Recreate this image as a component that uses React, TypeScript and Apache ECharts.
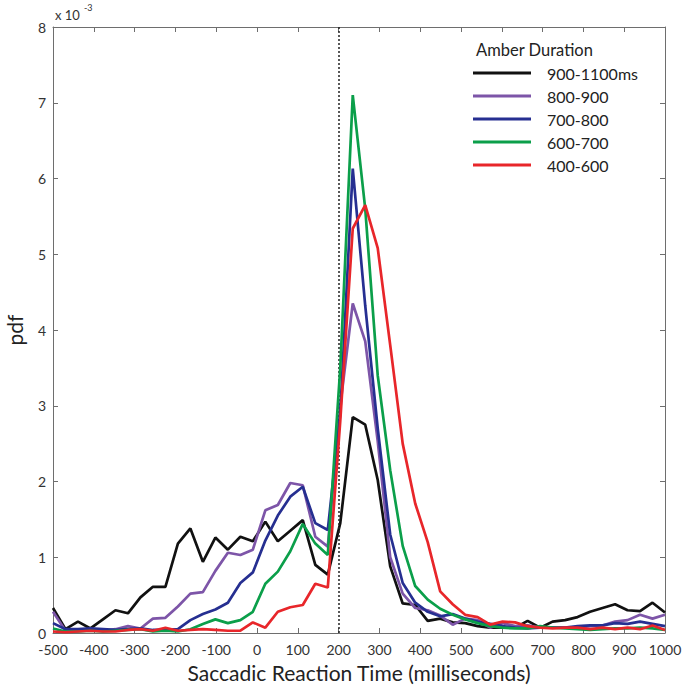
import React, { useEffect, useRef } from "react";
import * as echarts from "echarts";

// Reaction-time bin positions (ms)
const xValues = [
  -500, -469.4, -438.8, -408.2, -377.6, -346.9, -316.3, -285.7, -255.1, -224.5,
  -193.9, -163.3, -132.7, -102.0, -71.4, -40.8, -10.2, 20.4, 51.0, 81.6,
  112.2, 142.9, 173.5, 204.1, 234.7, 265.3, 295.9, 326.5, 357.1, 387.8,
  418.4, 449.0, 479.6, 510.2, 540.8, 571.4, 602.0, 632.7, 663.3, 693.9,
  724.5, 755.1, 785.7, 816.3, 846.9, 877.6, 908.2, 938.8, 969.4, 1000,
];

// pdf values (x 10^-3)
const dur900to1100 = [
  0.33, 0.05, 0.15, 0.06, 0.18, 0.30, 0.26, 0.47, 0.61, 0.61,
  1.18, 1.38, 0.94, 1.26, 1.10, 1.27, 1.21, 1.47, 1.21, 1.35,
  1.49, 0.90, 0.77, 1.45, 2.85, 2.75, 2.02, 0.88, 0.39, 0.37,
  0.16, 0.19, 0.14, 0.13, 0.09, 0.07, 0.07, 0.07, 0.16, 0.07,
  0.15, 0.17, 0.21, 0.28, 0.33, 0.38, 0.30, 0.29, 0.40, 0.27,
];
const dur800to900 = [
  0.28, 0.03, 0.03, 0.04, 0.03, 0.05, 0.09, 0.06, 0.19, 0.20,
  0.35, 0.52, 0.54, 0.82, 1.06, 1.03, 1.10, 1.62, 1.69, 1.98,
  1.95, 1.27, 1.14, 3.0, 4.35, 3.85, 2.53, 1.0, 0.52, 0.33,
  0.30, 0.23, 0.11, 0.19, 0.17, 0.07, 0.13, 0.09, 0.10, 0.07,
  0.07, 0.07, 0.07, 0.09, 0.10, 0.15, 0.17, 0.24, 0.19, 0.24,
];
const dur700to800 = [
  0.13, 0.05, 0.05, 0.06, 0.05, 0.04, 0.05, 0.06, 0.04, 0.04,
  0.05, 0.17, 0.25, 0.31, 0.40, 0.66, 0.80, 1.22, 1.55, 1.80,
  1.93, 1.45, 1.36, 2.9, 6.13, 4.32, 2.7, 1.3, 0.66, 0.40,
  0.28, 0.22, 0.25, 0.19, 0.15, 0.12, 0.09, 0.07, 0.06, 0.07,
  0.07, 0.07, 0.09, 0.10, 0.10, 0.13, 0.12, 0.15, 0.12, 0.09,
];
const dur600to700 = [
  0.06, 0.02, 0.02, 0.03, 0.02, 0.03, 0.04, 0.05, 0.02, 0.03,
  0.02, 0.05, 0.12, 0.18, 0.13, 0.17, 0.28, 0.65, 0.81, 1.08,
  1.44, 1.18, 1.03, 3.5, 7.10, 5.6, 3.4, 2.15, 1.15, 0.62,
  0.44, 0.32, 0.24, 0.18, 0.13, 0.09, 0.07, 0.06, 0.06, 0.09,
  0.07, 0.06, 0.05, 0.04, 0.05, 0.06, 0.06, 0.07, 0.06, 0.04,
];
const dur400to600 = [
  0.02, 0.01, 0.02, 0.03, 0.02, 0.02, 0.04, 0.05, 0.03, 0.07,
  0.03, 0.04, 0.05, 0.04, 0.03, 0.03, 0.14, 0.07, 0.28, 0.34,
  0.37, 0.65, 0.60, 2.8, 5.34, 5.65, 5.08, 3.8, 2.5, 1.71,
  1.2, 0.55, 0.38, 0.24, 0.21, 0.11, 0.15, 0.14, 0.09, 0.07,
  0.06, 0.07, 0.07, 0.05, 0.07, 0.05, 0.07, 0.05, 0.10, 0.04,
];

const seriesNames = ["900-1100ms", "800-900", "700-800", "600-700", "400-600"];
const seriesValues = [dur900to1100, dur800to900, dur700to800, dur600to700, dur400to600];
const seriesColors = ["#111111", "#7d55a8", "#262f91", "#0b9f4a", "#e8262a"];

const markerX = 200;

const FONT = "Lato, 'Open Sans', sans-serif";
const AXIS_COLOR = "#6e6e6e";

export default function App() {
  const ref = useRef<HTMLDivElement>(null);

  useEffect(() => {
    if (!ref.current) return;
    const chart = echarts.init(ref.current, undefined, { renderer: "svg" });

    const axisCommon = {
      axisLine: { show: true, onZero: false, lineStyle: { color: AXIS_COLOR, width: 1 } },
      axisTick: { show: true, inside: true, length: 5, lineStyle: { color: AXIS_COLOR, width: 1 } },
      splitLine: { show: false },
    };

    const series: any[] = seriesNames.map((name, i) => ({
      name,
      type: "line",
      data: xValues.map((x, j) => [x, seriesValues[i][j]]),
      symbol: "none",
      showSymbol: false,
      clip: true,
      lineStyle: { color: seriesColors[i], width: 2.7 },
      itemStyle: { color: seriesColors[i] },
      z: 3 + i,
    }));
    series[0].markLine = {
      silent: true,
      symbol: ["none", "none"],
      label: { show: false },
      lineStyle: { color: "#222", width: 1.5, type: [2, 2] },
      data: [{ xAxis: markerX }],
      animation: false,
    };

    chart.setOption({
      animation: false,
      backgroundColor: "#ffffff",
      textStyle: { fontFamily: FONT },
      grid: {
        left: 53,
        right: 23,
        top: 27,
        bottom: 60,
        containLabel: false,
        outerBoundsMode: "none",
      },
      xAxis: [
        {
          type: "value",
          min: -500,
          max: 1000,
          interval: 100,
          position: "bottom",
          ...axisCommon,
          axisLabel: {
            color: "#333",
            fontSize: 14,
            margin: 9,
            fontFamily: FONT,
            formatter: (v: number) => String(v),
          },
          name: "Saccadic Reaction Time (milliseconds)",
          nameLocation: "middle",
          nameGap: 29,
          nameTextStyle: { color: "#222", fontSize: 21, fontFamily: FONT },
        },
        {
          type: "value",
          min: -500,
          max: 1000,
          interval: 100,
          position: "top",
          ...axisCommon,
          axisLabel: { show: false },
        },
      ],
      yAxis: [
        {
          type: "value",
          min: 0,
          max: 8,
          interval: 1,
          position: "left",
          ...axisCommon,
          axisLabel: {
            color: "#333",
            fontSize: 14,
            margin: 7,
            fontFamily: FONT,
            formatter: (v: number) => String(v),
          },
          name: "pdf",
          nameLocation: "middle",
          nameGap: 28,
          nameRotate: 90,
          nameTextStyle: { color: "#222", fontSize: 21, fontFamily: FONT },
        },
        {
          type: "value",
          min: 0,
          max: 8,
          interval: 1,
          position: "right",
          ...axisCommon,
          axisLabel: { show: false },
        },
      ],
      legend: {
        data: seriesNames,
        orient: "vertical",
        left: 473,
        top: 65,
        icon: "rect",
        itemWidth: 58,
        itemHeight: 3,
        itemGap: 7,
        padding: 0,
        textStyle: {
          color: "#222",
          fontSize: 16,
          lineHeight: 16,
          fontFamily: FONT,
          padding: [0, 0, 0, 11],
        },
      },
      graphic: [
        {
          type: "text",
          left: 476,
          top: 41,
          style: { text: "Amber Duration", fontSize: 16.5, fill: "#222", fontFamily: FONT },
        },
        {
          type: "text",
          left: 55,
          top: 8,
          style: { text: "x 10", fontSize: 13, fill: "#333", fontFamily: FONT },
        },
        {
          type: "text",
          left: 84,
          top: 3,
          style: { text: "-3", fontSize: 9, fill: "#333", fontFamily: FONT },
        },
      ],
      series,
    });

    return () => chart.dispose();
  }, []);

  return (
    <div
      ref={ref}
      style={{ position: "fixed", left: 0, top: 0, width: 688, height: 693, background: "#fff" }}
    />
  );
}
